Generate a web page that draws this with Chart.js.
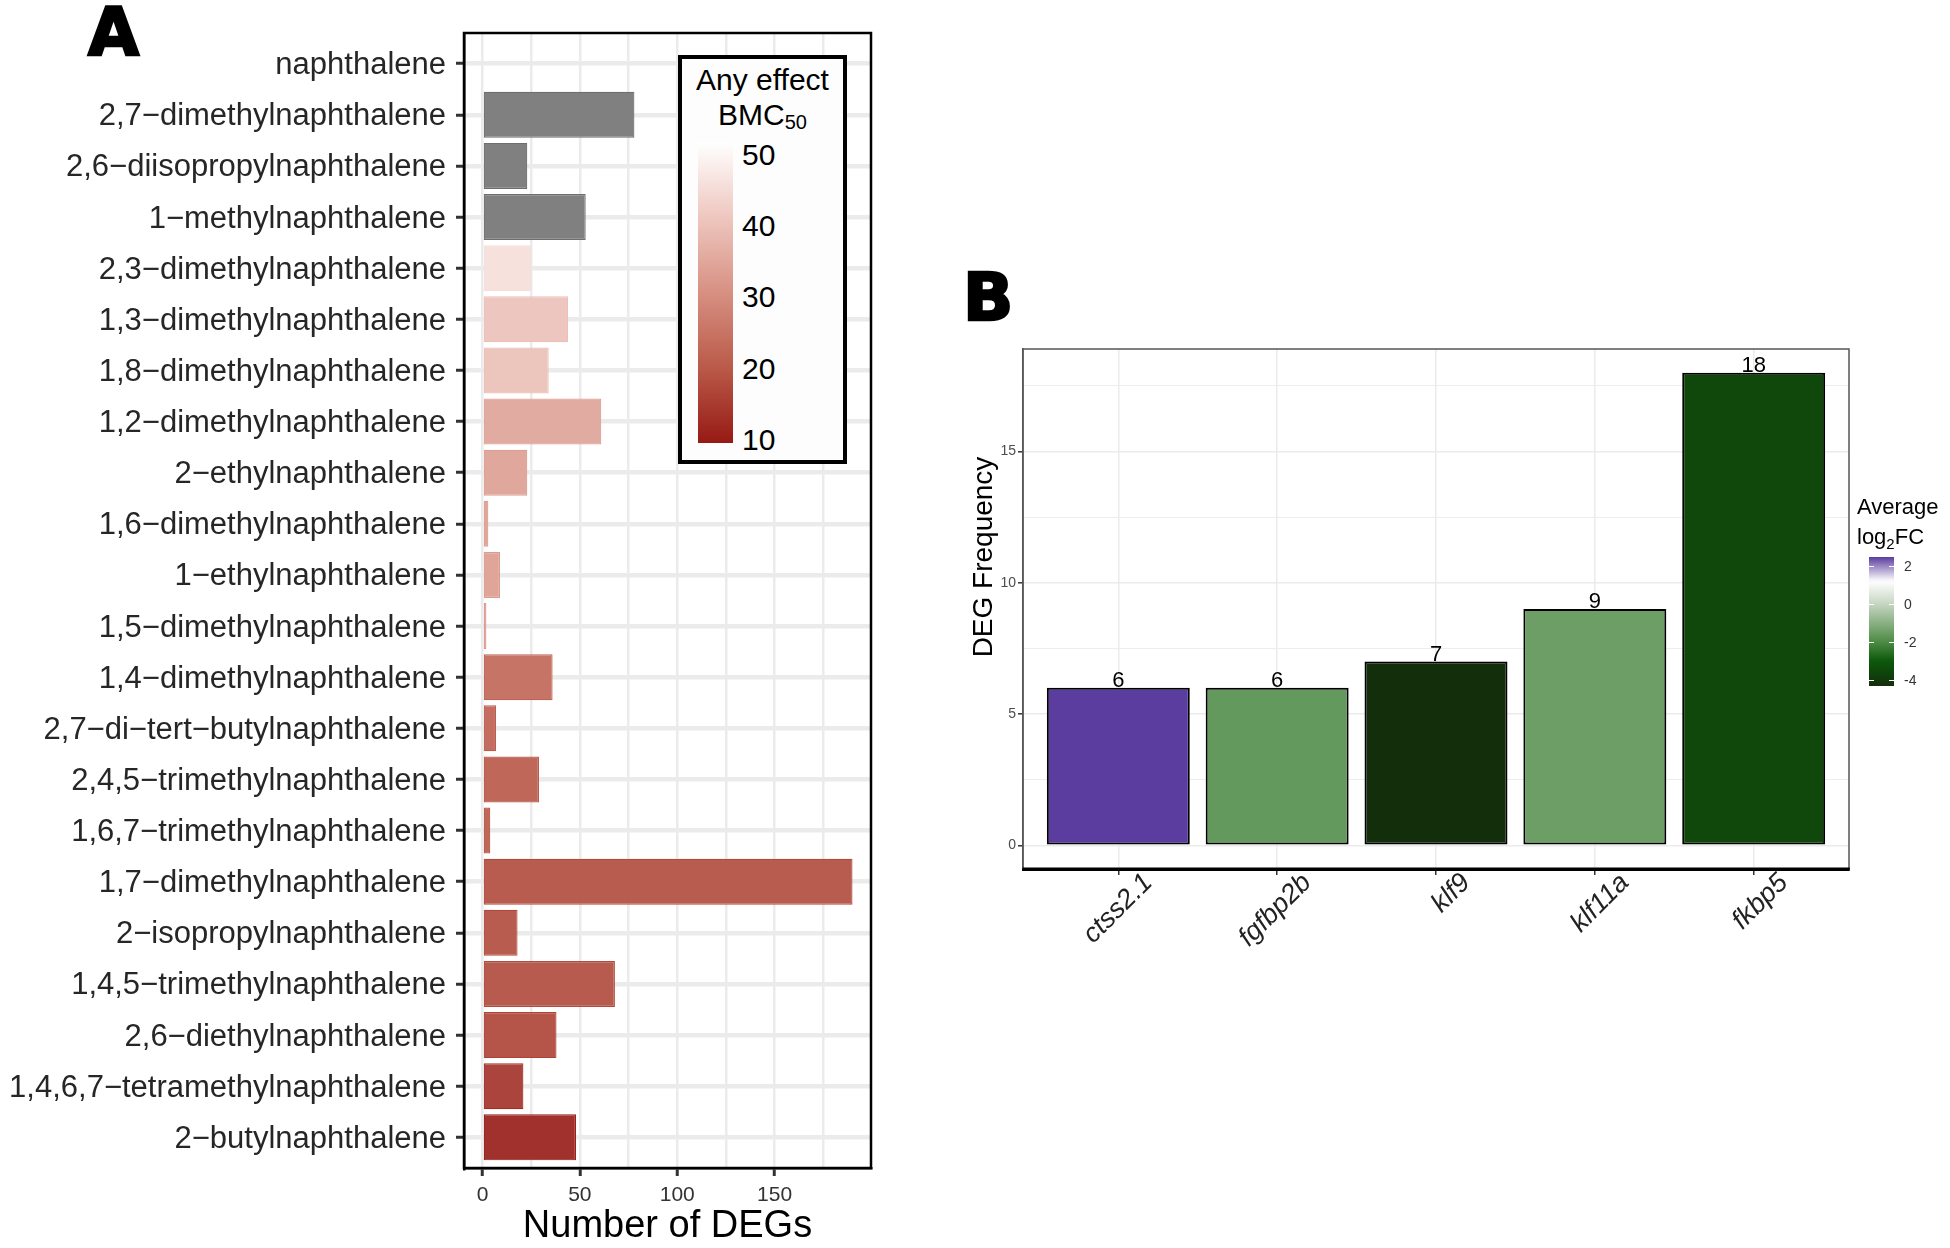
<!DOCTYPE html>
<html>
<head>
<meta charset="utf-8">
<title>DEGs per naphthalene and DEG frequency</title>
<script src="https://cdn.jsdelivr.net/npm/chart.js@4.4.0/dist/chart.umd.min.js"></script>
<style>
    html, body { margin: 0; padding: 0; background: #fff; }
    body {
        width: 1950px; height: 1248px; position: relative; overflow: hidden;
        font-family: "Liberation Sans", Arial, sans-serif; color: #000;
    }
    .abs { position: absolute; white-space: nowrap; }
    .tag {
        font-family: "DejaVu Sans", sans-serif; font-weight: bold;
        font-size: 66px; line-height: 66px; -webkit-text-stroke: 2.5px #000;
    }
    #legendA {
        left: 678px; top: 55px; width: 169px; height: 409px;
        box-sizing: border-box; border: 4px solid #000; background: #fdfdfd;
    }
    .legA-title { left: 678px; width: 169px; text-align: center; font-size: 30px; line-height: 30px; }
    .legA-lab { left: 742px; font-size: 30px; line-height: 30px; }
    .legB-title { left: 1857px; font-size: 22px; line-height: 22px; }
    .legB-lab { left: 1904px; font-size: 14px; line-height: 14px; color: #333; }
    .cb-tick { background: #fff; height: 1px; }
    #yTitleB {
        left: 833px; top: 543px; width: 300px; text-align: center;
        font-size: 28px; line-height: 28px; transform: rotate(-90deg);
    }
</style>
</head>
<body>

<div class="abs tag" style="left:88px; top:0px;">A</div>
<div class="abs tag" style="left:963px; top:265px;">B</div>

<canvas id="chartA" class="abs" width="900" height="1248" style="left:0; top:0;"></canvas>
<canvas id="chartB" class="abs" width="910" height="660" style="left:950px; top:330px;"></canvas>

<div id="legendA" class="abs"></div>
<div class="abs legA-title" style="top:65px;">Any effect</div>
<div class="abs legA-title" style="top:100px;">BMC<span style="font-size:20px; vertical-align:-4px;">50</span></div>
<div id="barA" class="abs" style="left:698px; top:142px; width:35px; height:301px;"></div>

<div class="abs legB-title" style="top:496px;">Average</div>
<div class="abs legB-title" style="top:526px;">log<span style="font-size:15px; vertical-align:-5px;">2</span>FC</div>
<div id="barB" class="abs" style="left:1869px; top:557px; width:25px; height:129px;"></div>

<div id="yTitleB" class="abs">DEG Frequency</div>

<script>
// --- Panel A data ---
const compounds = [
    'naphthalene',
    '2,7\u2212dimethylnaphthalene',
    '2,6\u2212diisopropylnaphthalene',
    '1\u2212methylnaphthalene',
    '2,3\u2212dimethylnaphthalene',
    '1,3\u2212dimethylnaphthalene',
    '1,8\u2212dimethylnaphthalene',
    '1,2\u2212dimethylnaphthalene',
    '2\u2212ethylnaphthalene',
    '1,6\u2212dimethylnaphthalene',
    '1\u2212ethylnaphthalene',
    '1,5\u2212dimethylnaphthalene',
    '1,4\u2212dimethylnaphthalene',
    '2,7\u2212di\u2212tert\u2212butylnaphthalene',
    '2,4,5\u2212trimethylnaphthalene',
    '1,6,7\u2212trimethylnaphthalene',
    '1,7\u2212dimethylnaphthalene',
    '2\u2212isopropylnaphthalene',
    '1,4,5\u2212trimethylnaphthalene',
    '2,6\u2212diethylnaphthalene',
    '1,4,6,7\u2212tetramethylnaphthalene',
    '2\u2212butylnaphthalene'
];
const degCounts = [0, 78, 23, 53, 25, 44, 34, 61, 23, 3, 9, 2, 36, 7, 29, 4, 190, 18, 68, 38, 21, 48];
// BMC50 for the fill; null = no BMC (grey bar)
const bmc50 = [51.8, null, null, null, 45.5, 40, 39.5, 34.1, 33.3, 33, 32.8, 32,
               22.1, 21, 19.7, 19.5, 17.5, 17.5, 17.3, 16.2, 13.1, 9.6];
const degTicks = [0, 50, 100, 150];
const degMinorTicks = [25, 75, 125, 175];
const bmcTicks = [50, 40, 30, 20, 10];

// --- Panel B data ---
const genes = ['ctss2.1', 'fgfbp2b', 'klf9', 'klf11a', 'fkbp5'];
const degFreq = [6, 6, 7, 9, 18];
const avgLog2FC = [2.47, -1.62, -4.3, -1.48, -3.5];
const freqTicks = [0, 5, 10, 15];
const freqMinorTicks = [2.5, 7.5, 12.5, 17.5];
const fcTicks = [2, 0, -2, -4];

// --- colour scales ---
// dark red -> white, sampled like ggplot's Lab gradient
const bmcRamp = [[0, [150, 26, 20]], [0.25, [186, 90, 73]], [0.5, [215, 144, 130]], [0.75, [238, 199, 191]], [1, [255, 255, 255]]];
// green -> white -> purple, keyed on log2FC
const fcRamp = [[-4.3, [19, 46, 11]], [-3, [12, 88, 10]], [-2, [76, 139, 68]], [0, [198, 213, 194]], [1.2, [255, 255, 255]], [2.47, [90, 61, 158]]];
const NA_FILL = '#808080';
const NA_LINE = '#6e6e6e';

function rampAt(ramp, t) {
    t = Math.max(ramp[0][0], Math.min(ramp[ramp.length - 1][0], t));
    for (let i = 1; i < ramp.length; i++) {
        if (t <= ramp[i][0]) {
            const [t0, c0] = ramp[i - 1], [t1, c1] = ramp[i];
            const f = (t - t0) / (t1 - t0);
            return c0.map((c, k) => Math.round(c + f * (c1[k] - c)));
        }
    }
    return ramp[ramp.length - 1][1];
}
const rgb = c => `rgb(${c[0]},${c[1]},${c[2]})`;

const bmcKnown = bmc50.filter(v => v != null);
const bmcMin = Math.min(...bmcKnown), bmcMax = Math.max(...bmcKnown);
const bmcRgb = v => rampAt(bmcRamp, (v - bmcMin) / (bmcMax - bmcMin));
// bars are drawn with alpha 0.9 over white
const bmcFill = v => rgb(bmcRgb(v).map(c => Math.round(0.9 * c + 25.5)));
const bmcLine = v => rgb(bmcRgb(v));

const fcMin = Math.min(...avgLog2FC), fcMax = Math.max(...avgLog2FC);
const fcColour = v => rgb(rampAt(fcRamp, v));

// --- small plugins ---
const panelBox = {
    id: 'panelBox',
    afterDraw(chart, args, opts) {
        const { ctx, chartArea: a } = chart;
        ctx.save();
        ctx.strokeStyle = opts.color;
        ctx.lineWidth = opts.width;
        ctx.strokeRect(a.left, a.top, a.right - a.left, a.bottom - a.top);
        if (opts.bottomColor) {
            ctx.strokeStyle = opts.bottomColor;
            ctx.lineWidth = opts.bottomWidth;
            ctx.beginPath();
            ctx.moveTo(a.left - opts.width / 2, a.bottom);
            ctx.lineTo(a.right + opts.width / 2, a.bottom);
            ctx.stroke();
        }
        ctx.restore();
    }
};

const barValues = {
    id: 'barValues',
    afterDatasetsDraw(chart, args, opts) {
        if (!opts.show) return;
        const { ctx } = chart;
        const meta = chart.getDatasetMeta(0);
        ctx.save();
        ctx.font = '22px "Liberation Sans", Arial, sans-serif';
        ctx.fillStyle = '#000';
        ctx.textAlign = 'center';
        ctx.textBaseline = 'alphabetic';
        meta.data.forEach((bar, i) => {
            ctx.fillText(String(degFreq[i]), bar.x, bar.y - 1);
        });
        ctx.restore();
    }
};

const FONT = '"Liberation Sans", Arial, sans-serif';

// --- Panel A: number of DEGs ---
const degPad = Math.max(...degCounts) * 0.05;
new Chart(document.getElementById('chartA'), {
    type: 'bar',
    data: {
        datasets: [{
            data: degCounts.map((v, i) => ({ x: v, y: i })),
            backgroundColor: bmc50.map(b => b == null ? NA_FILL : bmcFill(b)),
            borderColor: bmc50.map(b => b == null ? NA_LINE : bmcLine(b)),
            borderWidth: degCounts.map(v => v > 0 ? 1.2 : 0),
            borderSkipped: false,
            categoryPercentage: 1,
            barPercentage: 0.9
        }]
    },
    options: {
        indexAxis: 'y',
        responsive: false,
        animation: false,
        layout: { padding: { top: 33, right: 29, left: 0, bottom: 0 } },
        plugins: {
            legend: { display: false },
            tooltip: { enabled: false },
            panelBox: { color: '#000', width: 2.5 },
            barValues: { show: false }
        },
        scales: {
            x: {
                type: 'linear',
                min: -degPad,
                max: Math.max(...degCounts) + degPad,
                afterBuildTicks: s => {
                    s.ticks = degTicks.concat(degMinorTicks).sort((a, b) => a - b).map(v => ({ value: v }));
                },
                afterFit: s => { s.height = 80; },
                grid: {
                    color: '#ebebeb',
                    lineWidth: 2.5,
                    tickColor: c => degTicks.includes(c.tick.value) ? '#333' : 'rgba(0,0,0,0)',
                    tickWidth: 3,
                    tickLength: 8
                },
                border: { display: true, color: '#000', width: 2.5 },
                ticks: {
                    autoSkip: false,
                    maxRotation: 0,
                    padding: 7,
                    color: '#333',
                    font: { family: FONT, size: 21 },
                    callback: v => degTicks.includes(v) ? String(v) : ''
                },
                title: {
                    display: true,
                    text: 'Number of DEGs',
                    color: '#000',
                    font: { family: FONT, size: 38, lineHeight: 1 },
                    padding: { top: 0, bottom: 2 }
                }
            },
            y: {
                type: 'linear',
                reverse: true,
                offset: false,
                min: -0.6,
                max: compounds.length - 1 + 0.6,
                afterBuildTicks: s => { s.ticks = compounds.map((_, i) => ({ value: i })); },
                afterFit: s => { s.width = 464; },
                grid: {
                    offset: false,
                    color: '#ebebeb',
                    lineWidth: 4.5,
                    tickColor: '#333',
                    tickWidth: 3,
                    tickLength: 8
                },
                border: { display: true, color: '#000', width: 2.5 },
                ticks: {
                    autoSkip: false,
                    padding: 10,
                    labelOffset: 2,
                    color: '#262626',
                    font: { family: FONT, size: 31 },
                    callback: v => compounds[v]
                }
            }
        }
    },
    plugins: [panelBox]
});

// --- Panel B: DEG frequency ---
const freqPad = Math.max(...degFreq) * 0.05;
new Chart(document.getElementById('chartB'), {
    type: 'bar',
    data: {
        datasets: [{
            data: degFreq.map((v, i) => ({ x: i, y: v })),
            backgroundColor: avgLog2FC.map(fcColour),
            borderColor: '#000',
            borderWidth: 2,
            borderSkipped: false,
            categoryPercentage: 1,
            barPercentage: 0.9
        }]
    },
    options: {
        responsive: false,
        animation: false,
        layout: { padding: { top: 19, right: 11, left: 0, bottom: 0 } },
        plugins: {
            legend: { display: false },
            tooltip: { enabled: false },
            panelBox: { color: '#555', width: 1.5, bottomColor: '#000', bottomWidth: 3 },
            barValues: { show: true }
        },
        scales: {
            x: {
                type: 'linear',
                offset: false,
                min: -0.6,
                max: genes.length - 1 + 0.6,
                afterBuildTicks: s => { s.ticks = genes.map((_, i) => ({ value: i })); },
                afterFit: s => { s.height = 121; },
                grid: {
                    offset: false,
                    color: '#ebebeb',
                    lineWidth: 1.5,
                    tickColor: '#333',
                    tickWidth: 1.5,
                    tickLength: 6
                },
                border: { display: true, color: '#000', width: 3 },
                ticks: {
                    autoSkip: false,
                    minRotation: 45,
                    maxRotation: 45,
                    labelOffset: 30,
                    padding: -8,
                    color: '#222',
                    font: { family: FONT, size: 27, style: 'italic' },
                    callback: v => genes[v]
                }
            },
            y: {
                type: 'linear',
                min: -freqPad,
                max: Math.max(...degFreq) + freqPad,
                afterBuildTicks: s => {
                    s.ticks = freqTicks.concat(freqMinorTicks).sort((a, b) => a - b).map(v => ({ value: v }));
                },
                afterFit: s => { s.width = 73; },
                grid: {
                    color: '#ebebeb',
                    lineWidth: c => freqTicks.includes(c.tick.value) ? 1.6 : 0.9,
                    tickColor: c => freqTicks.includes(c.tick.value) ? '#333' : 'rgba(0,0,0,0)',
                    tickWidth: 1.5,
                    tickLength: 5
                },
                border: { display: true, color: '#555', width: 1.5 },
                ticks: {
                    autoSkip: false,
                    padding: 2,
                    color: '#4d4d4d',
                    font: { family: FONT, size: 14 },
                    callback: v => freqTicks.includes(v) ? String(v) : ''
                }
            }
        }
    },
    plugins: [panelBox, barValues]
});

// --- colour bar legends ---
function buildBar(el, topVal, botVal, colourAt, steps) {
    const stops = [];
    for (let k = 0; k <= steps; k++) {
        const v = topVal + (botVal - topVal) * k / steps;
        stops.push(`${colourAt(v)} ${(100 * k / steps).toFixed(2)}%`);
    }
    el.style.background = `linear-gradient(to bottom, ${stops.join(', ')})`;
}

function addLabels(barEl, ticks, topVal, botVal, cls, lineH, withMarks) {
    const top = parseFloat(barEl.style.top), h = parseFloat(barEl.style.height);
    const left = parseFloat(barEl.style.left), w = parseFloat(barEl.style.width);
    ticks.forEach(t => {
        const y = top + (topVal - t) / (topVal - botVal) * h;
        const lab = document.createElement('div');
        lab.className = 'abs ' + cls;
        lab.style.top = (y - lineH / 2) + 'px';
        lab.textContent = String(t);
        document.body.appendChild(lab);
        if (withMarks) {
            [left, left + w - 5].forEach(x => {
                const m = document.createElement('div');
                m.className = 'abs cb-tick';
                m.style.left = x + 'px';
                m.style.top = Math.round(y) + 'px';
                m.style.width = '5px';
                document.body.appendChild(m);
            });
        }
    });
}

const barA = document.getElementById('barA');
buildBar(barA, bmcMax, bmcMin, v => bmcLine(v), 40);
addLabels(barA, bmcTicks, bmcMax, bmcMin, 'legA-lab', 30, false);

const barB = document.getElementById('barB');
buildBar(barB, fcMax, fcMin, fcColour, 40);
addLabels(barB, fcTicks, fcMax, fcMin, 'legB-lab', 14, true);
</script>
</body>
</html>
